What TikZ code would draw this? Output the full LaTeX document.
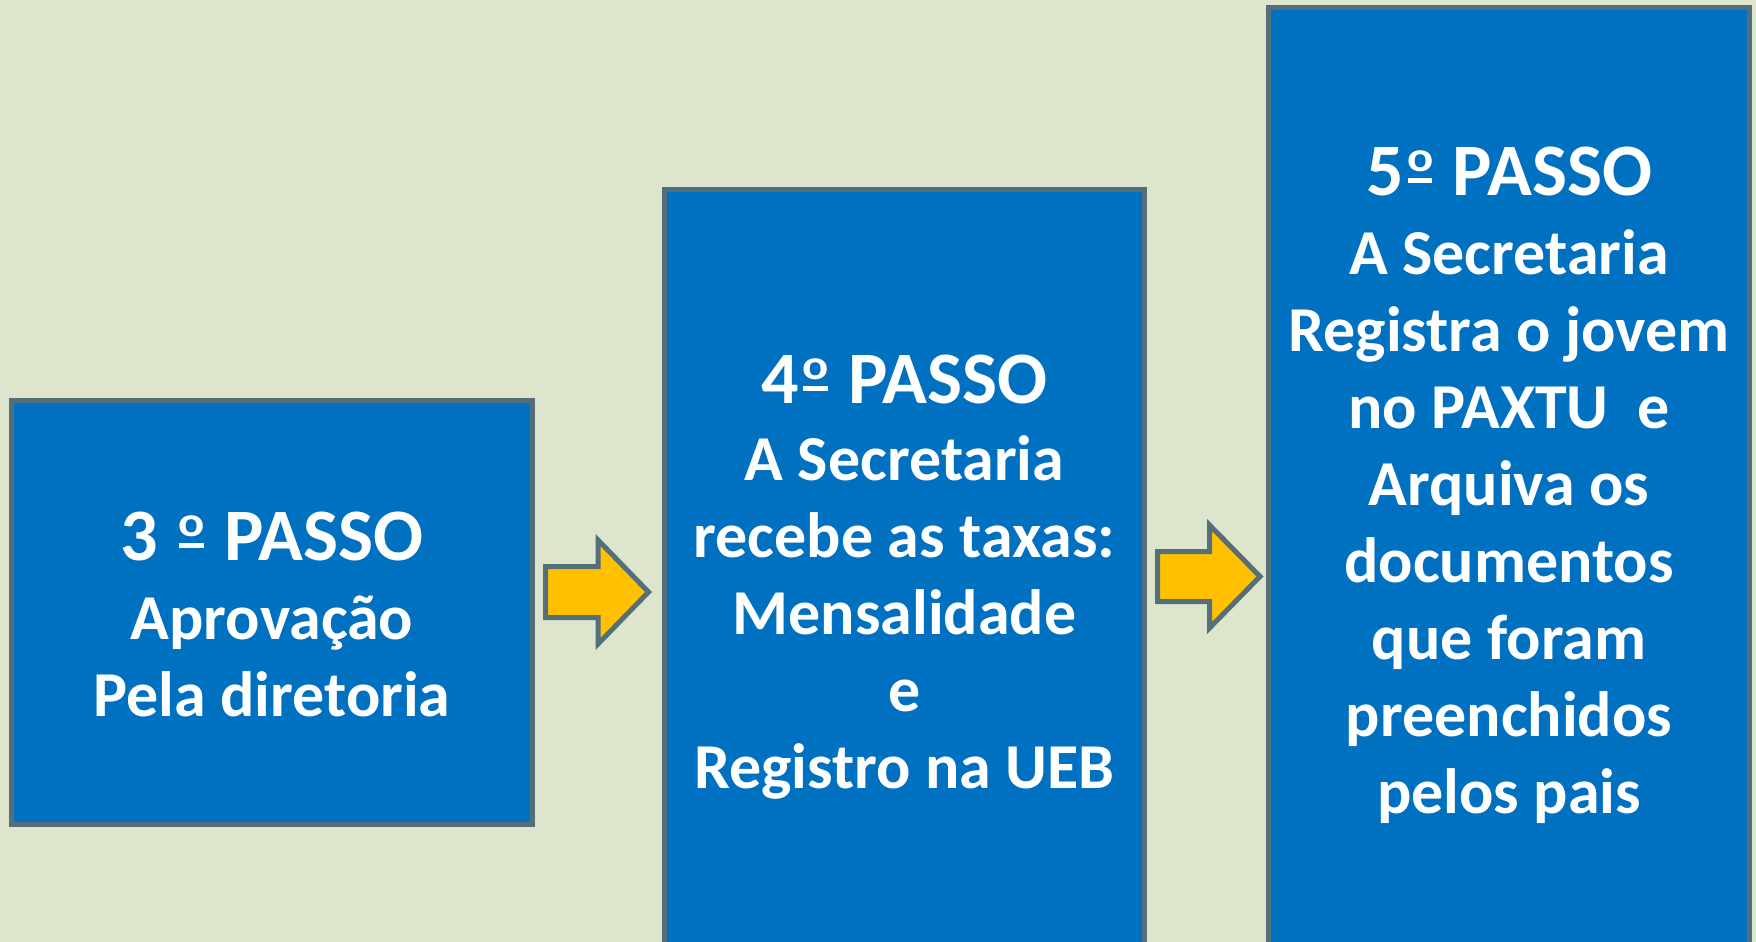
\documentclass[tikz,border=0pt]{standalone}
\usepackage{fontspec}
\usepackage{graphicx}
\setmainfont{Carlito}
\definecolor{bgcol}{HTML}{DEE5CD}
\definecolor{boxblue}{HTML}{0070C0}
\definecolor{edgecol}{HTML}{546F7A}
\definecolor{arrowyel}{HTML}{FFC000}
\newcommand{\titlesize}{\fontsize{74}{77}\selectfont}
\newcommand{\ordm}{\leavevmode\hbox{\kern0.06em\rlap{\kern-0.01em\raisebox{0.32em}{\scalebox{0.66}[0.57]{o}}}\raisebox{0.165em}{\rule{0.33em}{0.07em}}\kern0.05em}}
\begin{document}
\begin{tikzpicture}[x=1pt,y=-1pt,
  stepbox/.style={draw=edgecol, line width=5pt, fill=boxblue, rectangle, inner sep=0pt},
  txt/.style={text=white, align=center, inner sep=0pt, font=\fontsize{64}{77}\selectfont\bfseries},
  blockarrow/.style={draw=edgecol, line width=5pt, fill=arrowyel, line join=miter}]
\useasboundingbox (0,0) rectangle (1756,942);
\clip (0,0) rectangle (1756,942);
\fill[bgcol] (0,0) rectangle (1756,942);
% boxes
\node[stepbox, minimum width=521pt, minimum height=424pt] (b3) at (272,612.5) {};
\node[stepbox, minimum width=480pt, minimum height=800pt] (b4) at (904.5,589.5) {};
\node[stepbox, minimum width=481pt, minimum height=1000pt] (b5) at (1509,507.5) {};
% texts
\node[txt] (t3) at (272,614) {{\titlesize 3 \ordm{} PASSO}\\[2pt]Aprovação\\Pela diretoria};
\node[txt] (t4) at (904.5,577) {{\titlesize 4\ordm{} PASSO}\\[0pt]A Secretaria\\recebe as taxas:\\Mensalidade\\e\\Registro na UEB};
\node[txt] (t5) at (1509,485) {{\titlesize 5\ordm{} PASSO}\\[2pt]A Secretaria\\Registra o jovem\\no PAXTU\ \ e\\Arquiva os\\documentos\\que foram\\preenchidos\\pelos pais};
% block arrows
\draw[blockarrow] (545.5,566.5) -- (598,566.5) -- (598,540) -- (648.5,592) -- (598,644) -- (598,617.5) -- (545.5,617.5) -- cycle;
\draw[blockarrow] (1157.5,551.5) -- (1209.5,551.5) -- (1209.5,525) -- (1260,576.5) -- (1209.5,628) -- (1209.5,601.5) -- (1157.5,601.5) -- cycle;
\end{tikzpicture}
\end{document}
